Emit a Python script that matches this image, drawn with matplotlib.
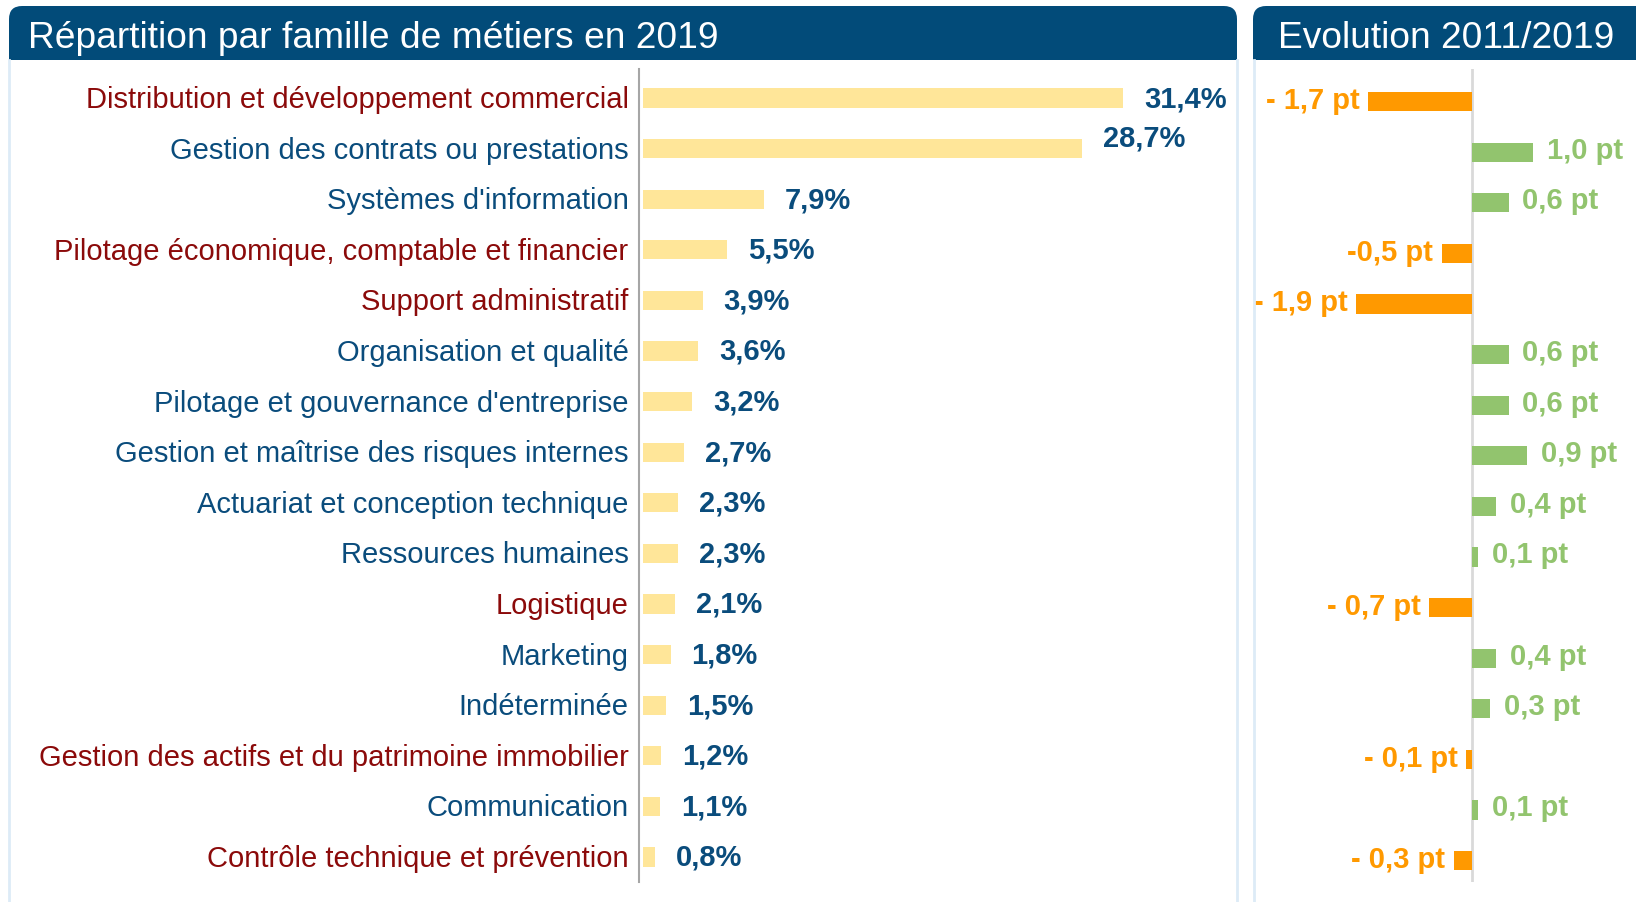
import matplotlib.pyplot as plt
from matplotlib.patches import FancyBboxPatch, Rectangle
from matplotlib.lines import Line2D

plt.rcParams['font.family'] = ['Liberation Sans', 'DejaVu Sans']

# data
familles = [
    "Distribution et développement commercial",
    "Gestion des contrats ou prestations",
    "Systèmes d'information",
    "Pilotage économique, comptable et financier",
    "Support administratif",
    "Organisation et qualité",
    "Pilotage et gouvernance d'entreprise",
    "Gestion et maîtrise des risques internes",
    "Actuariat et conception technique",
    "Ressources humaines",
    "Logistique",
    "Marketing",
    "Indéterminée",
    "Gestion des actifs et du patrimoine immobilier",
    "Communication",
    "Contrôle technique et prévention",
]
part_2019 = [31.4, 28.7, 7.9, 5.5, 3.9, 3.6, 3.2, 2.7, 2.3, 2.3, 2.1, 1.8, 1.5, 1.2, 1.1, 0.8]
evolution = [-1.7, 1.0, 0.6, -0.5, -1.9, 0.6, 0.6, 0.9, 0.4, 0.1, -0.7, 0.4, 0.3, -0.1, 0.1, -0.3]
evol_labels = ["- 1,7 pt", "1,0 pt", "0,6 pt", "-0,5 pt", "- 1,9 pt", "0,6 pt", "0,6 pt",
               "0,9 pt", "0,4 pt", "0,1 pt", "- 0,7 pt", "0,4 pt", "0,3 pt", "- 0,1 pt",
               "0,1 pt", "- 0,3 pt"]

BLUE = '#0A4C7C'
HEADER = '#024B79'
RED = '#8B0A0A'
YELLOW = '#FFE699'
ORANGE = '#FF9900'
GREEN = '#92C46E'
BORDER = '#DDEBF7'

W, H = 1636, 903
fig = plt.figure(figsize=(W / 100, H / 100), dpi=100)


def fx(px):
    return px / W


def fy(py):
    return 1 - py / H


def header(x0, x1, text, ha, tx):
    box = FancyBboxPatch((fx(x0), fy(61)), fx(x1 - x0), fy(7) - fy(61),
                         boxstyle="round,pad=0,rounding_size=0.008",
                         transform=fig.transFigure, facecolor=HEADER, edgecolor='none',
                         mutation_aspect=W / H)
    fig.patches.append(box)
    fig.patches.append(Rectangle((fx(x0), fy(61)), fx(x1 - x0), fy(35) - fy(61),
                                 transform=fig.transFigure, facecolor=HEADER, edgecolor='none'))
    fig.text(fx(tx), fy(39), text, color='white', fontsize=26.7, ha=ha, va='center')


header(9, 1237, "Répartition par famille de métiers en 2019", 'left', 28)
header(1253, 1660, "Evolution 2011/2019", 'center', 1446)

for xb in (9, 1237, 1254):
    fig.lines.append(Line2D([fx(xb), fx(xb)], [fy(61), 0], transform=fig.transFigure,
                            color=BORDER, lw=2))

# row geometry
y0_px, step = 99, 50.6
ytop = (70 - y0_px) / step
ybot = (883 - y0_px) / step
rows = list(range(len(familles)))

# left panel
px_per = 15.3
ax = fig.add_axes([fx(639), fy(883), fx(1224 - 639), fy(70) - fy(883)])
ax.barh(rows, part_2019, height=0.38, color=YELLOW, left=0.26)
ax.set_xlim(0, (1224 - 639) / px_per)
ax.set_ylim(ybot, ytop)
for s in ('top', 'right', 'bottom'):
    ax.spines[s].set_visible(False)
ax.spines['left'].set_color('#A6A6A6')
ax.spines['left'].set_linewidth(1.5)
ax.set_xticks([])
ax.set_yticks([r - 0.04 for r in rows])
ax.set_yticklabels(familles, fontsize=21)
ax.tick_params(axis='y', length=0, pad=7.5)
for lab, v in zip(ax.get_yticklabels(), evolution):
    lab.set_color(RED if v < 0 else BLUE)
for i, v in enumerate(part_2019):
    dy = -0.22 if i == 1 else 0
    ax.annotate(f"{v:.1f}%".replace('.', ','), (v + 0.26, i + dy), xytext=(15, 0),
                textcoords='offset points', va='center', ha='left',
                fontsize=21, fontweight='bold', color=BLUE)

# right panel, rows sit a few pixels lower than on the left
zero = 1472
px_pt = 61
shift = 0.07
ax2 = fig.add_axes([fx(1255), fy(883), fx(W - 1255), fy(70) - fy(883)])
cols = [ORANGE if v < 0 else GREEN for v in evolution]
ax2.barh([r + shift for r in rows], evolution, height=0.38, color=cols)
ax2.axvline(0, color='#D9D9D9', lw=2, zorder=0)
ax2.set_xlim((1255 - zero) / px_pt, (W - zero) / px_pt)
ax2.set_ylim(ybot, ytop)
ax2.axis('off')
for i, (v, t, c) in enumerate(zip(evolution, evol_labels, cols)):
    if v < 0:
        ax2.annotate(t, (v, i + shift - 0.03), xytext=(-6, 0), textcoords='offset points',
                     ha='right', va='center', fontsize=21, fontweight='bold', color=c)
    else:
        ax2.annotate(t, (v, i + shift - 0.05), xytext=(10, 0), textcoords='offset points',
                     ha='left', va='center', fontsize=21, fontweight='bold', color=c)

fig.savefig('out.png', dpi=100, facecolor='white')
